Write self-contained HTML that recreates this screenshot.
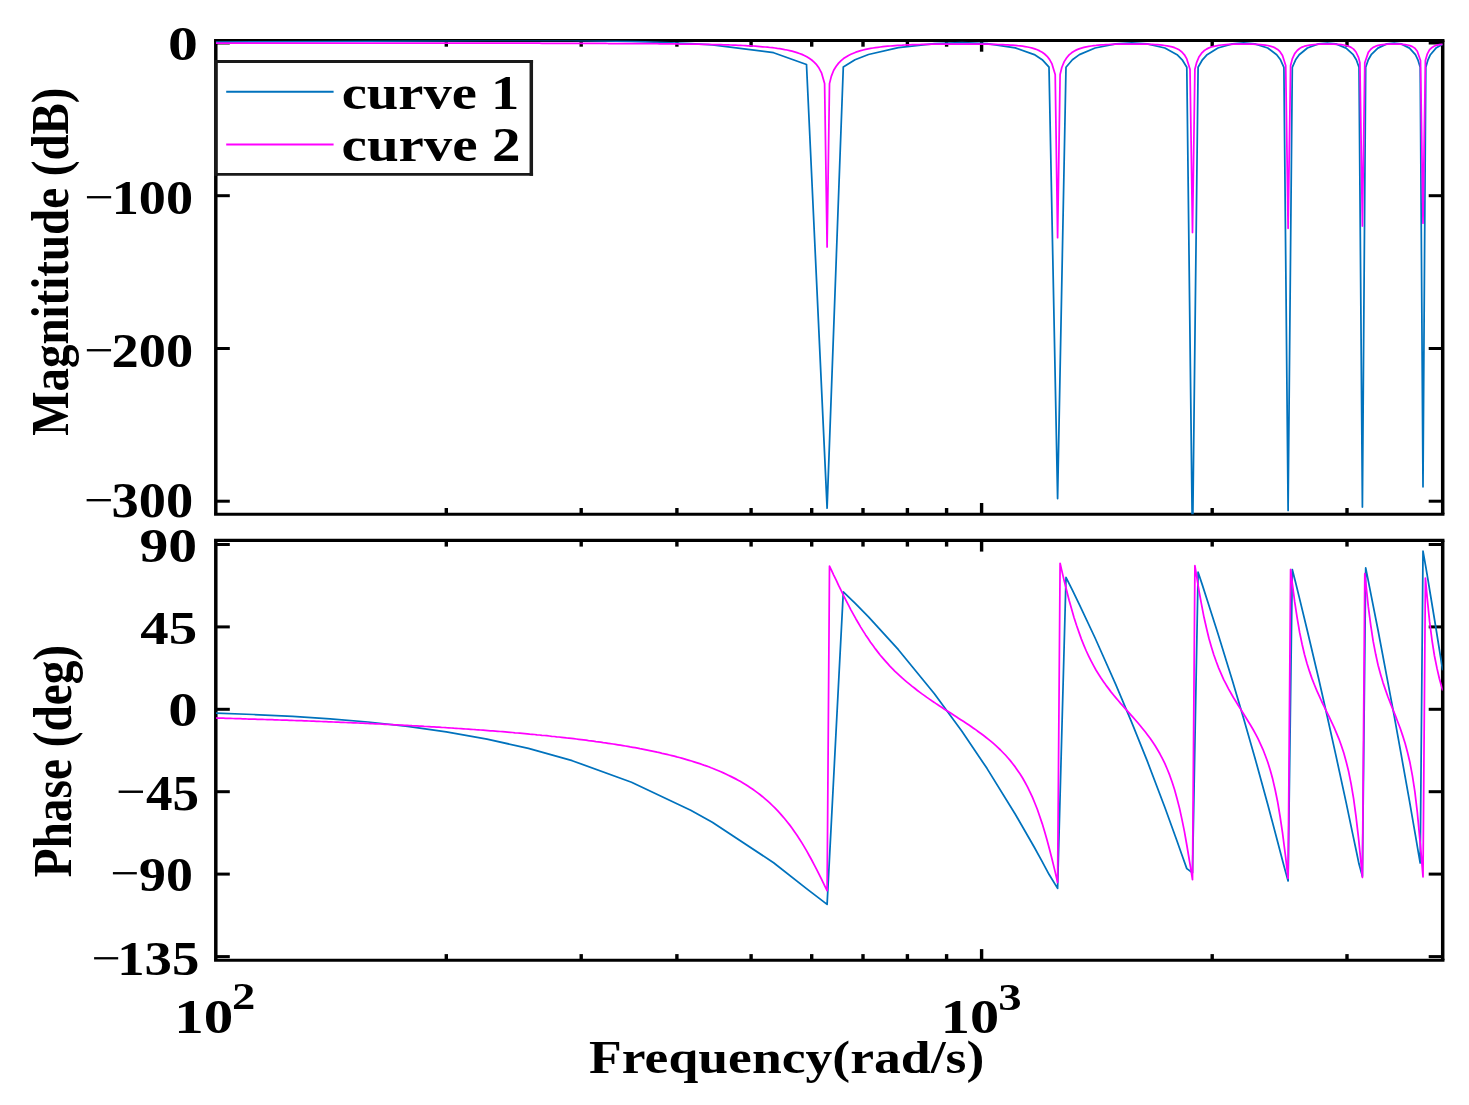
<!DOCTYPE html>
<html lang="en"><head><meta charset="utf-8"><title>Bode plot</title>
<style>html,body{margin:0;padding:0;background:#fff}svg{display:block}</style></head>
<body>
<svg width="1469" height="1105" viewBox="0 0 1469 1105">
<rect width="1469" height="1105" fill="#fff"/>
<g stroke="#000" fill="none">
<line x1="214.05" x2="1444.45" y1="40.5" y2="40.5" stroke-width="3.1"/>
<line x1="214.05" x2="1444.45" y1="514.2" y2="514.2" stroke-width="3.1"/>
<line x1="215.8" x2="215.8" y1="40.5" y2="514.2" stroke-width="3.5"/>
<line x1="1442.7" x2="1442.7" y1="40.5" y2="514.2" stroke-width="3.5"/>
</g>
<g stroke="#000" fill="none">
<line x1="214.05" x2="1444.45" y1="540.4" y2="540.4" stroke-width="3.1"/>
<line x1="214.05" x2="1444.45" y1="960.3" y2="960.3" stroke-width="3.1"/>
<line x1="215.8" x2="215.8" y1="540.4" y2="960.3" stroke-width="3.5"/>
<line x1="1442.7" x2="1442.7" y1="540.4" y2="960.3" stroke-width="3.5"/>
</g>
<g stroke="#000" stroke-width="3.4">
<line x1="446.3" x2="446.3" y1="514.2" y2="508.00000000000006"/>
<line x1="446.3" x2="446.3" y1="40.5" y2="46.7"/>
<line x1="581.2" x2="581.2" y1="514.2" y2="508.00000000000006"/>
<line x1="581.2" x2="581.2" y1="40.5" y2="46.7"/>
<line x1="676.9" x2="676.9" y1="514.2" y2="508.00000000000006"/>
<line x1="676.9" x2="676.9" y1="40.5" y2="46.7"/>
<line x1="751.1" x2="751.1" y1="514.2" y2="508.00000000000006"/>
<line x1="751.1" x2="751.1" y1="40.5" y2="46.7"/>
<line x1="811.7" x2="811.7" y1="514.2" y2="508.00000000000006"/>
<line x1="811.7" x2="811.7" y1="40.5" y2="46.7"/>
<line x1="863.0" x2="863.0" y1="514.2" y2="508.00000000000006"/>
<line x1="863.0" x2="863.0" y1="40.5" y2="46.7"/>
<line x1="907.4" x2="907.4" y1="514.2" y2="508.00000000000006"/>
<line x1="907.4" x2="907.4" y1="40.5" y2="46.7"/>
<line x1="946.6" x2="946.6" y1="514.2" y2="508.00000000000006"/>
<line x1="946.6" x2="946.6" y1="40.5" y2="46.7"/>
<line x1="981.6" x2="981.6" y1="514.2" y2="503.00000000000006"/>
<line x1="981.6" x2="981.6" y1="40.5" y2="51.7"/>
<line x1="1212.2" x2="1212.2" y1="514.2" y2="508.00000000000006"/>
<line x1="1212.2" x2="1212.2" y1="40.5" y2="46.7"/>
<line x1="1347.0" x2="1347.0" y1="514.2" y2="508.00000000000006"/>
<line x1="1347.0" x2="1347.0" y1="40.5" y2="46.7"/>
</g>
<g stroke="#000" stroke-width="3.4">
<line x1="446.3" x2="446.3" y1="960.3" y2="954.0999999999999"/>
<line x1="446.3" x2="446.3" y1="540.4" y2="546.6"/>
<line x1="581.2" x2="581.2" y1="960.3" y2="954.0999999999999"/>
<line x1="581.2" x2="581.2" y1="540.4" y2="546.6"/>
<line x1="676.9" x2="676.9" y1="960.3" y2="954.0999999999999"/>
<line x1="676.9" x2="676.9" y1="540.4" y2="546.6"/>
<line x1="751.1" x2="751.1" y1="960.3" y2="954.0999999999999"/>
<line x1="751.1" x2="751.1" y1="540.4" y2="546.6"/>
<line x1="811.7" x2="811.7" y1="960.3" y2="954.0999999999999"/>
<line x1="811.7" x2="811.7" y1="540.4" y2="546.6"/>
<line x1="863.0" x2="863.0" y1="960.3" y2="954.0999999999999"/>
<line x1="863.0" x2="863.0" y1="540.4" y2="546.6"/>
<line x1="907.4" x2="907.4" y1="960.3" y2="954.0999999999999"/>
<line x1="907.4" x2="907.4" y1="540.4" y2="546.6"/>
<line x1="946.6" x2="946.6" y1="960.3" y2="954.0999999999999"/>
<line x1="946.6" x2="946.6" y1="540.4" y2="546.6"/>
<line x1="981.6" x2="981.6" y1="960.3" y2="949.0999999999999"/>
<line x1="981.6" x2="981.6" y1="540.4" y2="551.6"/>
<line x1="1212.2" x2="1212.2" y1="960.3" y2="954.0999999999999"/>
<line x1="1212.2" x2="1212.2" y1="540.4" y2="546.6"/>
<line x1="1347.0" x2="1347.0" y1="960.3" y2="954.0999999999999"/>
<line x1="1347.0" x2="1347.0" y1="540.4" y2="546.6"/>
</g>
<g stroke="#000" stroke-width="3.0">
<line x1="215.8" x2="229.8" y1="43.0" y2="43.0"/>
<line x1="1442.7" x2="1428.7" y1="43.0" y2="43.0"/>
<line x1="215.8" x2="229.8" y1="195.7" y2="195.7"/>
<line x1="1442.7" x2="1428.7" y1="195.7" y2="195.7"/>
<line x1="215.8" x2="229.8" y1="348.5" y2="348.5"/>
<line x1="1442.7" x2="1428.7" y1="348.5" y2="348.5"/>
<line x1="215.8" x2="229.8" y1="501.2" y2="501.2"/>
<line x1="1442.7" x2="1428.7" y1="501.2" y2="501.2"/>
</g>
<g stroke="#000" stroke-width="3.0">
<line x1="215.8" x2="229.8" y1="544.5" y2="544.5"/>
<line x1="1442.7" x2="1428.7" y1="544.5" y2="544.5"/>
<line x1="215.8" x2="229.8" y1="626.9" y2="626.9"/>
<line x1="1442.7" x2="1428.7" y1="626.9" y2="626.9"/>
<line x1="215.8" x2="229.8" y1="709.3" y2="709.3"/>
<line x1="1442.7" x2="1428.7" y1="709.3" y2="709.3"/>
<line x1="215.8" x2="229.8" y1="791.7" y2="791.7"/>
<line x1="1442.7" x2="1428.7" y1="791.7" y2="791.7"/>
<line x1="215.8" x2="229.8" y1="874.1" y2="874.1"/>
<line x1="1442.7" x2="1428.7" y1="874.1" y2="874.1"/>
<line x1="215.8" x2="229.8" y1="956.6" y2="956.6"/>
<line x1="1442.7" x2="1428.7" y1="956.6" y2="956.6"/>
</g>
<defs><clipPath id="c1"><rect x="215.8" y="40.5" width="1226.9" height="473.70000000000005"/></clipPath><clipPath id="c2"><rect x="215.8" y="540.4" width="1226.9" height="419.9"/></clipPath></defs>
<g clip-path="url(#c1)"><path d="M215.8,42.1 L253.5,41.9 L292.7,41.7 L330.1,41.4 L367.9,41.2 L407.6,40.9 L446.3,40.7 L487.0,40.5 L528.4,40.4 L572.2,40.5 L631.5,41.3 L690.7,43.5 L712.3,44.8 L773.6,52.7 L806.5,64.5 L827.1,508.1 L843.3,67.0 L855.0,59.8 L868.5,54.5 L898.4,47.6 L934.4,43.6 L961.9,42.7 L987.1,43.7 L1015.3,47.9 L1034.3,54.6 L1042.2,59.7 L1049.0,67.2 L1057.6,498.6 L1066.0,67.2 L1072.4,59.7 L1079.4,54.6 L1095.1,48.0 L1115.7,43.8 L1131.8,42.9 L1147.2,43.8 L1164.9,48.0 L1177.1,54.7 L1182.2,59.8 L1186.8,67.3 L1192.5,547.0 L1198.1,67.3 L1202.4,59.8 L1207.1,54.7 L1217.9,48.0 L1232.3,43.9 L1243.7,42.9 L1254.8,43.9 L1267.7,48.0 L1276.7,54.7 L1280.5,59.8 L1283.9,67.3 L1288.1,510.4 L1292.3,67.3 L1295.6,59.8 L1299.2,54.7 L1307.4,48.0 L1318.5,43.9 L1327.3,43.0 L1335.9,43.9 L1346.1,48.1 L1353.2,54.7 L1356.3,59.8 L1359.0,67.3 L1362.4,507.0 L1365.7,67.3 L1368.3,59.8 L1371.2,54.7 L1377.9,48.1 L1386.8,43.9 L1394.1,43.0 L1401.1,43.9 L1409.5,48.1 L1415.4,54.7 L1417.9,59.8 L1420.2,67.3 L1423.0,486.8 L1425.8,67.3 L1428.0,59.8 L1430.4,54.7 L1436.0,48.1 L1442.7,44.2" stroke="#0072BD" fill="none" stroke-width="1.75" stroke-linejoin="round" stroke-linecap="butt"/><path d="M215.8,43.0 L218.3,43.0 L220.7,43.0 L223.2,43.0 L225.6,43.0 L228.1,43.0 L230.5,43.0 L233.0,43.0 L235.4,43.0 L237.9,43.0 L240.3,43.0 L242.8,43.0 L245.2,43.0 L247.7,43.0 L250.1,43.0 L252.6,43.0 L255.0,43.0 L257.5,43.0 L259.9,43.0 L262.4,43.0 L264.8,43.0 L267.3,43.0 L269.7,43.0 L272.2,43.0 L274.7,43.0 L277.1,43.0 L279.6,43.0 L282.0,43.0 L284.5,43.0 L286.9,43.0 L289.4,43.0 L291.8,43.0 L294.3,43.0 L296.7,43.0 L299.2,43.0 L301.6,43.0 L304.1,43.0 L306.5,43.0 L309.0,43.0 L311.4,43.1 L313.9,43.1 L316.3,43.1 L318.8,43.1 L321.2,43.1 L323.7,43.1 L326.1,43.1 L328.6,43.1 L331.1,43.1 L333.5,43.1 L336.0,43.1 L338.4,43.1 L340.9,43.1 L343.3,43.1 L345.8,43.1 L348.2,43.1 L350.7,43.1 L353.1,43.1 L355.6,43.1 L358.0,43.1 L360.5,43.1 L362.9,43.1 L365.4,43.1 L367.8,43.1 L370.3,43.1 L372.7,43.1 L375.2,43.1 L377.6,43.1 L380.1,43.1 L382.5,43.1 L385.0,43.1 L387.4,43.1 L389.9,43.1 L392.4,43.1 L394.8,43.1 L397.3,43.1 L399.7,43.1 L402.2,43.1 L404.6,43.1 L407.1,43.1 L409.5,43.1 L412.0,43.1 L414.4,43.1 L416.9,43.1 L419.3,43.1 L421.8,43.1 L424.2,43.1 L426.7,43.1 L429.1,43.1 L431.6,43.1 L434.0,43.1 L436.5,43.1 L438.9,43.1 L441.4,43.1 L443.8,43.1 L446.3,43.1 L448.8,43.1 L451.2,43.1 L453.7,43.1 L456.1,43.1 L458.6,43.1 L461.0,43.1 L463.5,43.1 L465.9,43.1 L468.4,43.1 L470.8,43.1 L473.3,43.2 L475.7,43.2 L478.2,43.2 L480.6,43.2 L483.1,43.2 L485.5,43.2 L488.0,43.2 L490.4,43.2 L492.9,43.2 L495.3,43.2 L497.8,43.2 L500.2,43.2 L502.7,43.2 L505.2,43.2 L507.6,43.2 L510.1,43.2 L512.5,43.2 L515.0,43.2 L517.4,43.2 L519.9,43.2 L522.3,43.2 L524.8,43.2 L527.2,43.2 L529.7,43.2 L532.1,43.2 L534.6,43.2 L537.0,43.2 L539.5,43.2 L541.9,43.3 L544.4,43.3 L546.8,43.3 L549.3,43.3 L551.7,43.3 L554.2,43.3 L556.6,43.3 L559.1,43.3 L561.6,43.3 L564.0,43.3 L566.5,43.3 L568.9,43.3 L571.4,43.3 L573.8,43.3 L576.3,43.3 L578.7,43.3 L581.2,43.4 L583.6,43.4 L586.1,43.4 L588.5,43.4 L591.0,43.4 L593.4,43.4 L595.9,43.4 L598.3,43.4 L600.8,43.4 L603.2,43.4 L605.7,43.4 L608.1,43.5 L610.6,43.5 L613.0,43.5 L615.5,43.5 L618.0,43.5 L620.4,43.5 L622.9,43.5 L625.3,43.5 L627.8,43.5 L630.2,43.6 L632.7,43.6 L635.1,43.6 L637.6,43.6 L640.0,43.6 L642.5,43.6 L644.9,43.6 L647.4,43.7 L649.8,43.7 L652.3,43.7 L654.7,43.7 L657.2,43.7 L659.6,43.8 L662.1,43.8 L664.5,43.8 L667.0,43.8 L669.4,43.9 L671.9,43.9 L674.3,43.9 L676.8,43.9 L679.3,44.0 L681.7,44.0 L684.2,44.0 L686.6,44.1 L689.1,44.1 L691.5,44.1 L694.0,44.2 L696.4,44.2 L698.9,44.2 L701.3,44.3 L703.8,44.3 L706.2,44.4 L708.7,44.4 L711.1,44.5 L713.6,44.5 L716.0,44.6 L718.5,44.7 L720.9,44.7 L723.4,44.8 L725.8,44.9 L728.3,44.9 L730.7,45.0 L733.2,45.1 L735.7,45.2 L738.1,45.3 L740.6,45.4 L743.0,45.5 L745.5,45.6 L747.9,45.8 L750.4,45.9 L752.8,46.0 L755.3,46.2 L757.7,46.4 L760.2,46.6 L762.6,46.8 L765.1,47.0 L767.5,47.2 L770.0,47.5 L772.4,47.7 L774.9,48.0 L777.3,48.4 L779.8,48.7 L782.2,49.1 L784.7,49.6 L787.1,50.0 L789.6,50.6 L792.1,51.2 L794.5,51.9 L797.0,52.6 L799.4,53.5 L801.9,54.4 L804.3,55.5 L806.8,56.8 L809.2,58.3 L811.7,60.0 L814.1,62.1 L816.6,64.7 L819.0,68.1 L821.5,72.8 L824.6,83.6 L827.1,247.0 L829.5,83.6 L831.3,76.4 L833.7,70.3 L836.2,66.2 L838.6,63.1 L841.1,60.7 L843.5,58.6 L846.0,57.0 L848.5,55.5 L850.9,54.3 L853.4,53.2 L855.8,52.2 L858.3,51.4 L860.7,50.7 L863.2,50.0 L865.6,49.4 L868.1,48.9 L870.5,48.4 L873.0,48.0 L875.4,47.6 L877.9,47.3 L880.3,47.0 L882.8,46.7 L885.2,46.4 L887.7,46.2 L890.1,46.0 L892.6,45.8 L895.0,45.6 L897.5,45.4 L899.9,45.3 L902.4,45.2 L904.9,45.0 L907.3,44.9 L909.8,44.8 L912.2,44.7 L914.7,44.6 L917.1,44.6 L919.6,44.5 L922.0,44.4 L924.5,44.4 L926.9,44.3 L929.4,44.3 L931.8,44.2 L934.3,44.2 L936.7,44.1 L939.2,44.1 L941.6,44.1 L944.1,44.1 L946.5,44.0 L949.0,44.0 L951.4,44.0 L953.9,44.0 L956.3,44.0 L958.8,44.0 L961.2,44.0 L963.7,44.0 L966.2,44.0 L968.6,44.0 L971.1,44.0 L973.5,44.0 L976.0,44.0 L978.4,44.1 L980.9,44.1 L983.3,44.1 L985.8,44.2 L988.2,44.2 L990.7,44.3 L993.1,44.3 L995.6,44.4 L998.0,44.5 L1000.5,44.6 L1002.9,44.7 L1005.4,44.8 L1007.8,44.9 L1010.3,45.1 L1012.7,45.2 L1015.2,45.4 L1017.6,45.7 L1020.1,45.9 L1022.6,46.2 L1025.0,46.6 L1027.5,47.0 L1029.9,47.5 L1032.4,48.2 L1034.8,48.9 L1037.3,49.8 L1039.7,50.9 L1042.2,52.3 L1044.6,54.0 L1047.1,56.3 L1049.5,59.4 L1052.0,63.9 L1055.2,74.6 L1057.6,237.7 L1060.1,74.5 L1061.8,67.5 L1064.2,61.6 L1066.7,57.7 L1069.1,54.9 L1071.6,52.8 L1074.0,51.2 L1076.5,49.9 L1079.0,48.9 L1081.4,48.1 L1083.9,47.4 L1086.3,46.8 L1088.8,46.4 L1091.2,46.0 L1093.7,45.6 L1096.1,45.4 L1098.6,45.1 L1101.0,44.9 L1103.5,44.8 L1105.9,44.6 L1108.4,44.5 L1110.8,44.4 L1113.3,44.3 L1115.7,44.2 L1118.2,44.2 L1120.6,44.1 L1123.1,44.1 L1125.5,44.0 L1128.0,44.0 L1130.4,44.0 L1132.9,44.0 L1135.4,44.0 L1137.8,44.0 L1140.3,44.1 L1142.7,44.1 L1145.2,44.2 L1147.6,44.2 L1150.1,44.3 L1152.5,44.4 L1155.0,44.6 L1157.4,44.7 L1159.9,44.9 L1162.3,45.2 L1164.8,45.5 L1167.2,45.8 L1169.7,46.3 L1172.1,46.9 L1174.6,47.7 L1177.0,48.7 L1179.5,50.1 L1181.9,52.0 L1184.4,54.8 L1186.8,58.9 L1190.0,69.3 L1192.5,232.5 L1194.9,69.2 L1196.7,62.3 L1199.1,56.7 L1201.6,53.2 L1204.0,50.8 L1206.5,49.1 L1208.9,47.9 L1211.4,47.0 L1213.8,46.3 L1216.3,45.8 L1218.7,45.4 L1221.2,45.0 L1223.6,44.8 L1226.1,44.6 L1228.5,44.4 L1231.0,44.3 L1233.4,44.2 L1235.9,44.1 L1238.3,44.1 L1240.8,44.0 L1243.2,44.0 L1245.7,44.0 L1248.1,44.1 L1250.6,44.1 L1253.1,44.2 L1255.5,44.3 L1258.0,44.4 L1260.4,44.6 L1262.9,44.8 L1265.3,45.1 L1267.8,45.5 L1270.2,46.1 L1272.7,46.8 L1275.1,47.9 L1277.6,49.4 L1280.0,51.7 L1282.5,55.5 L1285.7,65.6 L1288.1,228.3 L1290.6,65.5 L1292.3,58.9 L1294.7,53.6 L1297.2,50.5 L1299.6,48.5 L1302.1,47.1 L1304.5,46.2 L1307.0,45.6 L1309.5,45.1 L1311.9,44.8 L1314.4,44.5 L1316.8,44.3 L1319.3,44.2 L1321.7,44.1 L1324.2,44.1 L1326.6,44.0 L1329.1,44.0 L1331.5,44.1 L1334.0,44.2 L1336.4,44.3 L1338.9,44.4 L1341.3,44.7 L1343.8,45.0 L1346.2,45.5 L1348.7,46.3 L1351.1,47.4 L1353.6,49.1 L1356.0,52.0 L1358.5,57.3 L1359.9,62.8 L1362.4,226.0 L1364.8,62.7 L1368.3,52.4 L1370.8,49.2 L1373.2,47.4 L1375.7,46.2 L1378.1,45.4 L1380.6,44.9 L1383.0,44.6 L1385.5,44.3 L1387.9,44.2 L1390.4,44.1 L1392.8,44.0 L1395.3,44.0 L1397.7,44.1 L1400.2,44.2 L1402.6,44.4 L1405.1,44.6 L1407.5,45.0 L1410.0,45.6 L1412.4,46.6 L1414.9,48.3 L1417.3,51.3 L1420.5,60.5 L1423.0,223.2 L1425.4,60.4 L1427.2,54.2 L1429.6,49.7 L1432.1,47.4 L1434.5,46.0 L1437.0,45.2 L1439.4,44.7 L1441.9,44.4 L1442.7,44.3" stroke="#FF00FF" fill="none" stroke-width="1.75" stroke-linejoin="round" stroke-linecap="butt"/></g>
<g clip-path="url(#c2)"><path d="M215.8,713.1 L253.5,714.5 L292.7,716.4 L330.1,718.8 L367.9,722.0 L407.6,726.4 L446.3,731.8 L487.0,739.1 L528.4,748.4 L572.2,760.7 L631.5,782.2 L690.7,810.2 L712.3,822.3 L773.6,862.7 L806.5,888.6 L827.1,904.4 L843.3,591.9 L855.0,603.2 L868.5,616.9 L898.4,649.7 L934.4,693.8 L961.9,731.2 L987.1,768.6 L1015.3,814.2 L1034.3,847.3 L1042.2,861.6 L1049.0,874.3 L1057.6,888.4 L1066.0,577.4 L1072.4,590.2 L1079.4,604.6 L1095.1,638.0 L1115.7,684.3 L1131.8,722.6 L1147.2,760.9 L1164.9,807.5 L1177.1,841.2 L1182.2,855.7 L1186.8,868.6 L1192.5,872.7 L1198.1,572.2 L1202.4,585.1 L1207.1,599.7 L1217.9,633.4 L1232.3,680.2 L1243.7,718.8 L1254.8,757.4 L1267.7,804.3 L1276.7,838.2 L1280.5,852.8 L1283.9,865.8 L1288.1,880.9 L1292.3,569.5 L1295.6,582.5 L1299.2,597.1 L1307.4,631.0 L1318.5,678.0 L1327.3,716.7 L1335.9,755.4 L1346.1,802.4 L1353.2,836.4 L1356.3,851.0 L1359.0,864.1 L1362.4,876.2 L1365.7,567.9 L1368.3,580.9 L1371.2,595.6 L1377.9,629.5 L1386.8,676.6 L1394.1,715.4 L1401.1,754.2 L1409.5,801.2 L1415.4,835.2 L1417.9,849.9 L1420.2,863.0 L1423.0,551.2 L1425.8,566.8 L1428.0,579.8 L1430.4,594.5 L1436.0,628.5 L1442.7,670.4" stroke="#0072BD" fill="none" stroke-width="1.75" stroke-linejoin="round" stroke-linecap="butt"/><path d="M215.8,718.0 L218.3,718.1 L220.7,718.2 L223.2,718.2 L225.6,718.3 L228.1,718.4 L230.5,718.4 L233.0,718.5 L235.4,718.6 L237.9,718.7 L240.3,718.7 L242.8,718.8 L245.2,718.9 L247.7,719.0 L250.1,719.0 L252.6,719.1 L255.0,719.2 L257.5,719.3 L259.9,719.3 L262.4,719.4 L264.8,719.5 L267.3,719.6 L269.7,719.6 L272.2,719.7 L274.7,719.8 L277.1,719.9 L279.6,720.0 L282.0,720.1 L284.5,720.1 L286.9,720.2 L289.4,720.3 L291.8,720.4 L294.3,720.5 L296.7,720.6 L299.2,720.7 L301.6,720.7 L304.1,720.8 L306.5,720.9 L309.0,721.0 L311.4,721.1 L313.9,721.2 L316.3,721.3 L318.8,721.4 L321.2,721.5 L323.7,721.6 L326.1,721.7 L328.6,721.8 L331.1,721.9 L333.5,722.0 L336.0,722.1 L338.4,722.2 L340.9,722.3 L343.3,722.4 L345.8,722.5 L348.2,722.6 L350.7,722.7 L353.1,722.8 L355.6,722.9 L358.0,723.0 L360.5,723.1 L362.9,723.2 L365.4,723.3 L367.8,723.4 L370.3,723.6 L372.7,723.7 L375.2,723.8 L377.6,723.9 L380.1,724.0 L382.5,724.1 L385.0,724.3 L387.4,724.4 L389.9,724.5 L392.4,724.6 L394.8,724.8 L397.3,724.9 L399.7,725.0 L402.2,725.1 L404.6,725.3 L407.1,725.4 L409.5,725.5 L412.0,725.7 L414.4,725.8 L416.9,725.9 L419.3,726.1 L421.8,726.2 L424.2,726.4 L426.7,726.5 L429.1,726.6 L431.6,726.8 L434.0,726.9 L436.5,727.1 L438.9,727.2 L441.4,727.4 L443.8,727.5 L446.3,727.7 L448.8,727.8 L451.2,728.0 L453.7,728.2 L456.1,728.3 L458.6,728.5 L461.0,728.6 L463.5,728.8 L465.9,729.0 L468.4,729.1 L470.8,729.3 L473.3,729.5 L475.7,729.7 L478.2,729.8 L480.6,730.0 L483.1,730.2 L485.5,730.4 L488.0,730.6 L490.4,730.8 L492.9,730.9 L495.3,731.1 L497.8,731.3 L500.2,731.5 L502.7,731.7 L505.2,731.9 L507.6,732.1 L510.1,732.3 L512.5,732.5 L515.0,732.8 L517.4,733.0 L519.9,733.2 L522.3,733.4 L524.8,733.6 L527.2,733.8 L529.7,734.1 L532.1,734.3 L534.6,734.5 L537.0,734.8 L539.5,735.0 L541.9,735.3 L544.4,735.5 L546.8,735.7 L549.3,736.0 L551.7,736.3 L554.2,736.5 L556.6,736.8 L559.1,737.0 L561.6,737.3 L564.0,737.6 L566.5,737.9 L568.9,738.1 L571.4,738.4 L573.8,738.7 L576.3,739.0 L578.7,739.3 L581.2,739.6 L583.6,739.9 L586.1,740.2 L588.5,740.6 L591.0,740.9 L593.4,741.2 L595.9,741.6 L598.3,741.9 L600.8,742.2 L603.2,742.6 L605.7,742.9 L608.1,743.3 L610.6,743.7 L613.0,744.0 L615.5,744.4 L618.0,744.8 L620.4,745.2 L622.9,745.6 L625.3,746.0 L627.8,746.4 L630.2,746.9 L632.7,747.3 L635.1,747.7 L637.6,748.2 L640.0,748.7 L642.5,749.1 L644.9,749.6 L647.4,750.1 L649.8,750.6 L652.3,751.1 L654.7,751.6 L657.2,752.2 L659.6,752.7 L662.1,753.3 L664.5,753.8 L667.0,754.4 L669.4,755.0 L671.9,755.6 L674.3,756.2 L676.8,756.9 L679.3,757.5 L681.7,758.2 L684.2,758.9 L686.6,759.6 L689.1,760.3 L691.5,761.0 L694.0,761.8 L696.4,762.6 L698.9,763.4 L701.3,764.2 L703.8,765.1 L706.2,765.9 L708.7,766.8 L711.1,767.8 L713.6,768.7 L716.0,769.7 L718.5,770.7 L720.9,771.8 L723.4,772.9 L725.8,774.0 L728.3,775.2 L730.7,776.4 L733.2,777.6 L735.7,778.9 L738.1,780.2 L740.6,781.6 L743.0,783.0 L745.5,784.5 L747.9,786.1 L750.4,787.7 L752.8,789.3 L755.3,791.1 L757.7,792.9 L760.2,794.8 L762.6,796.7 L765.1,798.8 L767.5,800.9 L770.0,803.1 L772.4,805.5 L774.9,807.9 L777.3,810.4 L779.8,813.1 L782.2,815.9 L784.7,818.8 L787.1,821.8 L789.6,824.9 L792.1,828.2 L794.5,831.7 L797.0,835.3 L799.4,839.0 L801.9,842.9 L804.3,846.9 L806.8,851.1 L809.2,855.5 L811.7,860.0 L814.1,864.6 L816.6,869.3 L819.0,874.2 L821.5,879.1 L824.6,885.6 L827.1,890.7 L829.5,566.2 L831.3,569.9 L833.7,575.1 L836.2,580.2 L838.6,585.4 L841.1,590.4 L843.5,595.4 L846.0,600.3 L848.5,605.1 L850.9,609.8 L853.4,614.3 L855.8,618.7 L858.3,623.0 L860.7,627.1 L863.2,631.1 L865.6,634.9 L868.1,638.6 L870.5,642.2 L873.0,645.6 L875.4,648.9 L877.9,652.1 L880.3,655.2 L882.8,658.1 L885.2,660.9 L887.7,663.7 L890.1,666.3 L892.6,668.8 L895.0,671.3 L897.5,673.6 L899.9,675.9 L902.4,678.2 L904.9,680.3 L907.3,682.4 L909.8,684.4 L912.2,686.4 L914.7,688.3 L917.1,690.2 L919.6,692.1 L922.0,693.9 L924.5,695.6 L926.9,697.4 L929.4,699.1 L931.8,700.8 L934.3,702.4 L936.7,704.1 L939.2,705.7 L941.6,707.3 L944.1,708.9 L946.5,710.5 L949.0,712.0 L951.4,713.6 L953.9,715.2 L956.3,716.8 L958.8,718.4 L961.2,720.0 L963.7,721.6 L966.2,723.2 L968.6,724.8 L971.1,726.5 L973.5,728.2 L976.0,729.9 L978.4,731.7 L980.9,733.5 L983.3,735.3 L985.8,737.2 L988.2,739.1 L990.7,741.1 L993.1,743.2 L995.6,745.4 L998.0,747.6 L1000.5,750.0 L1002.9,752.5 L1005.4,755.0 L1007.8,757.8 L1010.3,760.6 L1012.7,763.7 L1015.2,766.9 L1017.6,770.4 L1020.1,774.0 L1022.6,778.0 L1025.0,782.2 L1027.5,786.8 L1029.9,791.8 L1032.4,797.2 L1034.8,803.0 L1037.3,809.3 L1039.7,816.2 L1042.2,823.6 L1044.6,831.6 L1047.1,840.2 L1049.5,849.3 L1052.0,859.0 L1055.2,872.1 L1057.6,882.5 L1060.1,563.3 L1061.8,570.6 L1064.2,580.8 L1066.7,590.7 L1069.1,600.2 L1071.6,609.1 L1074.0,617.4 L1076.5,625.2 L1079.0,632.4 L1081.4,639.1 L1083.9,645.3 L1086.3,651.0 L1088.8,656.3 L1091.2,661.2 L1093.7,665.9 L1096.1,670.2 L1098.6,674.2 L1101.0,678.0 L1103.5,681.7 L1105.9,685.1 L1108.4,688.4 L1110.8,691.6 L1113.3,694.7 L1115.7,697.6 L1118.2,700.5 L1120.6,703.4 L1123.1,706.2 L1125.5,708.9 L1128.0,711.7 L1130.4,714.4 L1132.9,717.2 L1135.4,720.0 L1137.8,722.8 L1140.3,725.7 L1142.7,728.7 L1145.2,731.7 L1147.6,734.9 L1150.1,738.3 L1152.5,741.8 L1155.0,745.5 L1157.4,749.5 L1159.9,753.8 L1162.3,758.4 L1164.8,763.4 L1167.2,769.0 L1169.7,775.2 L1172.1,782.0 L1174.6,789.7 L1177.0,798.4 L1179.5,808.1 L1181.9,819.1 L1184.4,831.4 L1186.8,845.0 L1190.0,864.1 L1192.5,879.7 L1194.9,565.7 L1196.7,576.7 L1199.1,591.3 L1201.6,604.9 L1204.0,617.3 L1206.5,628.3 L1208.9,638.2 L1211.4,646.9 L1213.8,654.7 L1216.3,661.8 L1218.7,668.1 L1221.2,673.9 L1223.6,679.3 L1226.1,684.2 L1228.5,688.9 L1231.0,693.3 L1233.4,697.5 L1235.9,701.5 L1238.3,705.5 L1240.8,709.4 L1243.2,713.3 L1245.7,717.2 L1248.1,721.2 L1250.6,725.3 L1253.1,729.5 L1255.5,733.9 L1258.0,738.7 L1260.4,743.8 L1262.9,749.3 L1265.3,755.5 L1267.8,762.3 L1270.2,770.1 L1272.7,779.1 L1275.1,789.5 L1277.6,801.7 L1280.0,816.0 L1282.5,832.6 L1285.7,857.6 L1288.1,878.3 L1290.6,569.5 L1292.3,583.3 L1294.7,601.9 L1297.2,618.1 L1299.6,632.2 L1302.1,644.2 L1304.5,654.5 L1307.0,663.5 L1309.5,671.4 L1311.9,678.4 L1314.4,684.8 L1316.8,690.7 L1319.3,696.2 L1321.7,701.5 L1324.2,706.6 L1326.6,711.6 L1329.1,716.6 L1331.5,721.8 L1334.0,727.1 L1336.4,732.8 L1338.9,738.8 L1341.3,745.5 L1343.8,753.1 L1346.2,761.7 L1348.7,771.8 L1351.1,783.9 L1353.6,798.6 L1356.0,816.4 L1358.5,837.9 L1359.9,851.7 L1362.4,877.5 L1364.8,573.7 L1368.3,606.7 L1370.8,625.7 L1373.2,641.4 L1375.7,654.3 L1378.1,665.2 L1380.6,674.4 L1383.0,682.6 L1385.5,689.9 L1387.9,696.7 L1390.4,703.1 L1392.8,709.2 L1395.3,715.4 L1397.7,721.7 L1400.2,728.3 L1402.6,735.4 L1405.1,743.3 L1407.5,752.2 L1410.0,762.8 L1412.4,775.7 L1414.9,791.8 L1417.3,812.1 L1420.5,846.2 L1423.0,876.9 L1425.4,578.2 L1427.2,597.8 L1429.6,621.7 L1432.1,640.8 L1434.5,656.0 L1437.0,668.4 L1439.4,678.7 L1441.9,687.7 L1442.7,690.5" stroke="#FF00FF" fill="none" stroke-width="1.75" stroke-linejoin="round" stroke-linecap="butt"/></g>
<rect x="215.8" y="61.5" width="315.40000000000003" height="112.9" fill="#fff"/>
<g stroke="#1a1a1a">
<line x1="214.05" x2="533.0500000000001" y1="61.5" y2="61.5" stroke-width="2.8"/>
<line x1="214.05" x2="533.0500000000001" y1="174.4" y2="174.4" stroke-width="2.8"/>
<line x1="215.95000000000002" x2="215.95000000000002" y1="60.1" y2="175.8" stroke-width="3.7"/>
<line x1="531.3000000000001" x2="531.3000000000001" y1="60.1" y2="175.8" stroke-width="3.5"/>
</g>
<line x1="226.2" x2="333.6" y1="91.8" y2="91.8" stroke="#0072BD" stroke-width="2"/>
<line x1="226.2" x2="333.6" y1="144.5" y2="144.5" stroke="#FF00FF" stroke-width="2"/>
<text transform="translate(168.04,60.41) scale(1.2701,1.0110)" font-family="Liberation Serif, serif" font-weight="bold" font-size="47">0</text>
<text transform="translate(111.70,213.70) scale(1.1534,1.0420)" font-family="Liberation Serif, serif" font-weight="bold" font-size="47"><tspan x="-23.67" y="-1.14" font-weight="normal" font-size="45.13">−</tspan><tspan x="0" y="0">100</tspan></text>
<text transform="translate(111.56,367.00) scale(1.1581,1.0538)" font-family="Liberation Serif, serif" font-weight="bold" font-size="47"><tspan x="-23.46" y="-1.13" font-weight="normal" font-size="44.94">−</tspan><tspan x="0" y="0">200</tspan></text>
<text transform="translate(111.62,517.07) scale(1.1585,1.0566)" font-family="Liberation Serif, serif" font-weight="bold" font-size="47"><tspan x="-23.54" y="-1.19" font-weight="normal" font-size="45.14">−</tspan><tspan x="0" y="0">300</tspan></text>
<text transform="translate(139.42,561.78) scale(1.2279,1.0371)" font-family="Liberation Serif, serif" font-weight="bold" font-size="47">90</text>
<text transform="translate(140.19,643.70) scale(1.2119,1.0035)" font-family="Liberation Serif, serif" font-weight="bold" font-size="47">45</text>
<text transform="translate(168.16,726.49) scale(1.2516,1.0291)" font-family="Liberation Serif, serif" font-weight="bold" font-size="47">0</text>
<text transform="translate(145.93,810.00) scale(1.1300,1.0616)" font-family="Liberation Serif, serif" font-weight="bold" font-size="47"><tspan x="-26.17" y="-1.68" font-weight="normal" font-size="46.42">−</tspan><tspan x="0" y="0">45</tspan></text>
<text transform="translate(139.02,890.51) scale(1.1467,1.0478)" font-family="Liberation Serif, serif" font-weight="bold" font-size="47"><tspan x="-24.82" y="-1.13" font-weight="normal" font-size="44.86">−</tspan><tspan x="0" y="0">90</tspan></text>
<text transform="translate(117.14,975.30) scale(1.1660,1.0517)" font-family="Liberation Serif, serif" font-weight="bold" font-size="47"><tspan x="-22.08" y="-1.59" font-weight="normal" font-size="44.46">−</tspan><tspan x="0" y="0">135</tspan></text>
<text transform="translate(174.23,1032.85) scale(1.2569,1.0247)" font-family="Liberation Serif, serif" font-weight="bold" font-size="47">10<tspan x="45.90" y="-23.37" font-size="37.13">2</tspan></text>
<text transform="translate(940.75,1032.84) scale(1.2402,1.0243)" font-family="Liberation Serif, serif" font-weight="bold" font-size="47">10<tspan x="46.33" y="-22.24" font-size="37.67">3</tspan></text>
<text transform="translate(589.01,1073.10) scale(1.1414,1.0000)" font-family="Liberation Serif, serif" font-weight="bold" font-size="47">Frequency(rad/s)</text>
<text transform="translate(341.65,109.00) scale(1.2052,1.0420)" font-family="Liberation Serif, serif" font-weight="bold" font-size="47">curve 1</text>
<text transform="translate(341.59,161.19) scale(1.2126,1.0279)" font-family="Liberation Serif, serif" font-weight="bold" font-size="47">curve 2</text>
<text transform="translate(68.34,435.85) scale(1.1345,0.9995) rotate(-90)" font-family="Liberation Serif, serif" font-weight="bold" font-size="47">Magnititude (dB)</text>
<text transform="translate(71.39,877.33) scale(1.1485,1.0061) rotate(-90)" font-family="Liberation Serif, serif" font-weight="bold" font-size="47">Phase (deg)</text>
</svg>
</body></html>
